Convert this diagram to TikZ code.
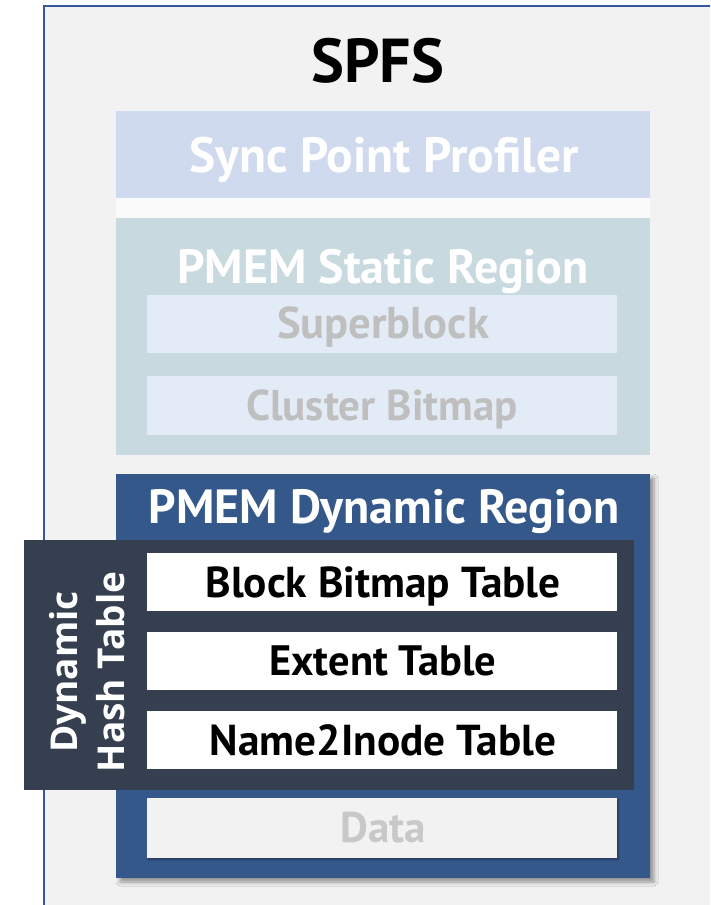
\documentclass[tikz,border=0pt]{standalone}
\usepackage{fontspec}
\setmainfont{PT Sans}
\newfontfamily\sidefont{Open Sans}
\usetikzlibrary{shadows.blur}

\definecolor{framebg}{HTML}{F2F2F2}
\definecolor{frameline}{HTML}{34589A}
\definecolor{syncfill}{HTML}{CFDAEE}
\definecolor{gapfill}{HTML}{FAFAFA}
\definecolor{staticfill}{HTML}{C8D9E0}
\definecolor{staticsub}{HTML}{E3ECF6}
\definecolor{fadedtext}{HTML}{BFBFBF}
\definecolor{dynfill}{HTML}{35588B}
\definecolor{hashfill}{HTML}{353F50}
\definecolor{datatext}{HTML}{C8C8C8}

\begin{document}
\begin{tikzpicture}[x=1pt, y=-1pt,
  region/.style={anchor=north west, inner sep=0pt, outer sep=0pt},
  lbl/.style={anchor=base, inner sep=0pt, font=\bfseries\fontsize{#1}{#1}\selectfont},
  lbl/.default=40]
\useasboundingbox (0,0) rectangle (710,905);
\clip (0,0) rectangle (710,905);

% outer file-system frame
\node[region, fill=framebg, draw=frameline, line width=2.2pt,
      minimum width=700pt, minimum height=930pt] (spfs) at (44,6) {};
\node[lbl=62] (spfstitle) at (378,82) {SPFS};

% sync point profiler
\node[region, fill=syncfill, minimum width=534pt, minimum height=87pt] (sync) at (116,111) {};
\node[lbl=49.5, text=white] (synclbl) at (384,172) {Sync Point Profiler};
\node[region, fill=gapfill, minimum width=534pt, minimum height=20pt] (gap) at (116,198) {};

% static region
\node[region, fill=staticfill, minimum width=534pt, minimum height=237pt] (static) at (116,218) {};
\node[lbl=48, text=white] (staticlbl) at (383,283) {PMEM Static Region};
\node[region, fill=staticsub, minimum width=470pt, minimum height=58pt] (sb) at (147,295) {};
\node[lbl=44.5, text=fadedtext] (sblbl) at (383,338) {Superblock};
\node[region, fill=staticsub, minimum width=470pt, minimum height=59pt] (cb) at (147,376) {};
\node[lbl=43, text=fadedtext] (cblbl) at (382,420) {Cluster Bitmap};

% dynamic region
\node[region, fill=dynfill, minimum width=534pt, minimum height=404pt,
      blur shadow={shadow xshift=4pt, shadow yshift=-4pt, shadow blur radius=4pt, shadow opacity=40}] (dyn) at (116,474) {};
\node[lbl=48, text=white] (dynlbl) at (384,523) {PMEM Dynamic Region};

% dynamic hash table
\node[region, fill=hashfill, minimum width=610pt, minimum height=250pt] (hash) at (24,540) {};
\node[rotate=90, align=center, inner sep=0pt, text=white,
      font=\sidefont\bfseries\fontsize{37}{47}\selectfont] (hashlbl) at (87,672) {Dynamic\\Hash Table};

\node[region, fill=white, minimum width=470pt, minimum height=58pt] (bbt) at (147,553) {};
\node[lbl=43.3] (bbtlbl) at (383,597) {Block Bitmap Table};
\node[region, fill=white, minimum width=470pt, minimum height=58pt] (ext) at (147,632) {};
\node[lbl=42.5] (extlbl) at (383,675) {Extent Table};
\node[region, fill=white, minimum width=470pt, minimum height=58pt] (n2i) at (147,711) {};
\node[lbl=43.3] (n2ilbl) at (383,755) {Name2Inode Table};

% data area
\node[region, fill=framebg, minimum width=470pt, minimum height=60pt,
      blur shadow={shadow xshift=1.5pt, shadow yshift=-1.5pt, shadow blur radius=1pt, shadow opacity=30}] (data) at (147,798) {};
\node[lbl=43, text=datatext] (datalbl) at (383,842) {Data};
\end{tikzpicture}
\end{document}
